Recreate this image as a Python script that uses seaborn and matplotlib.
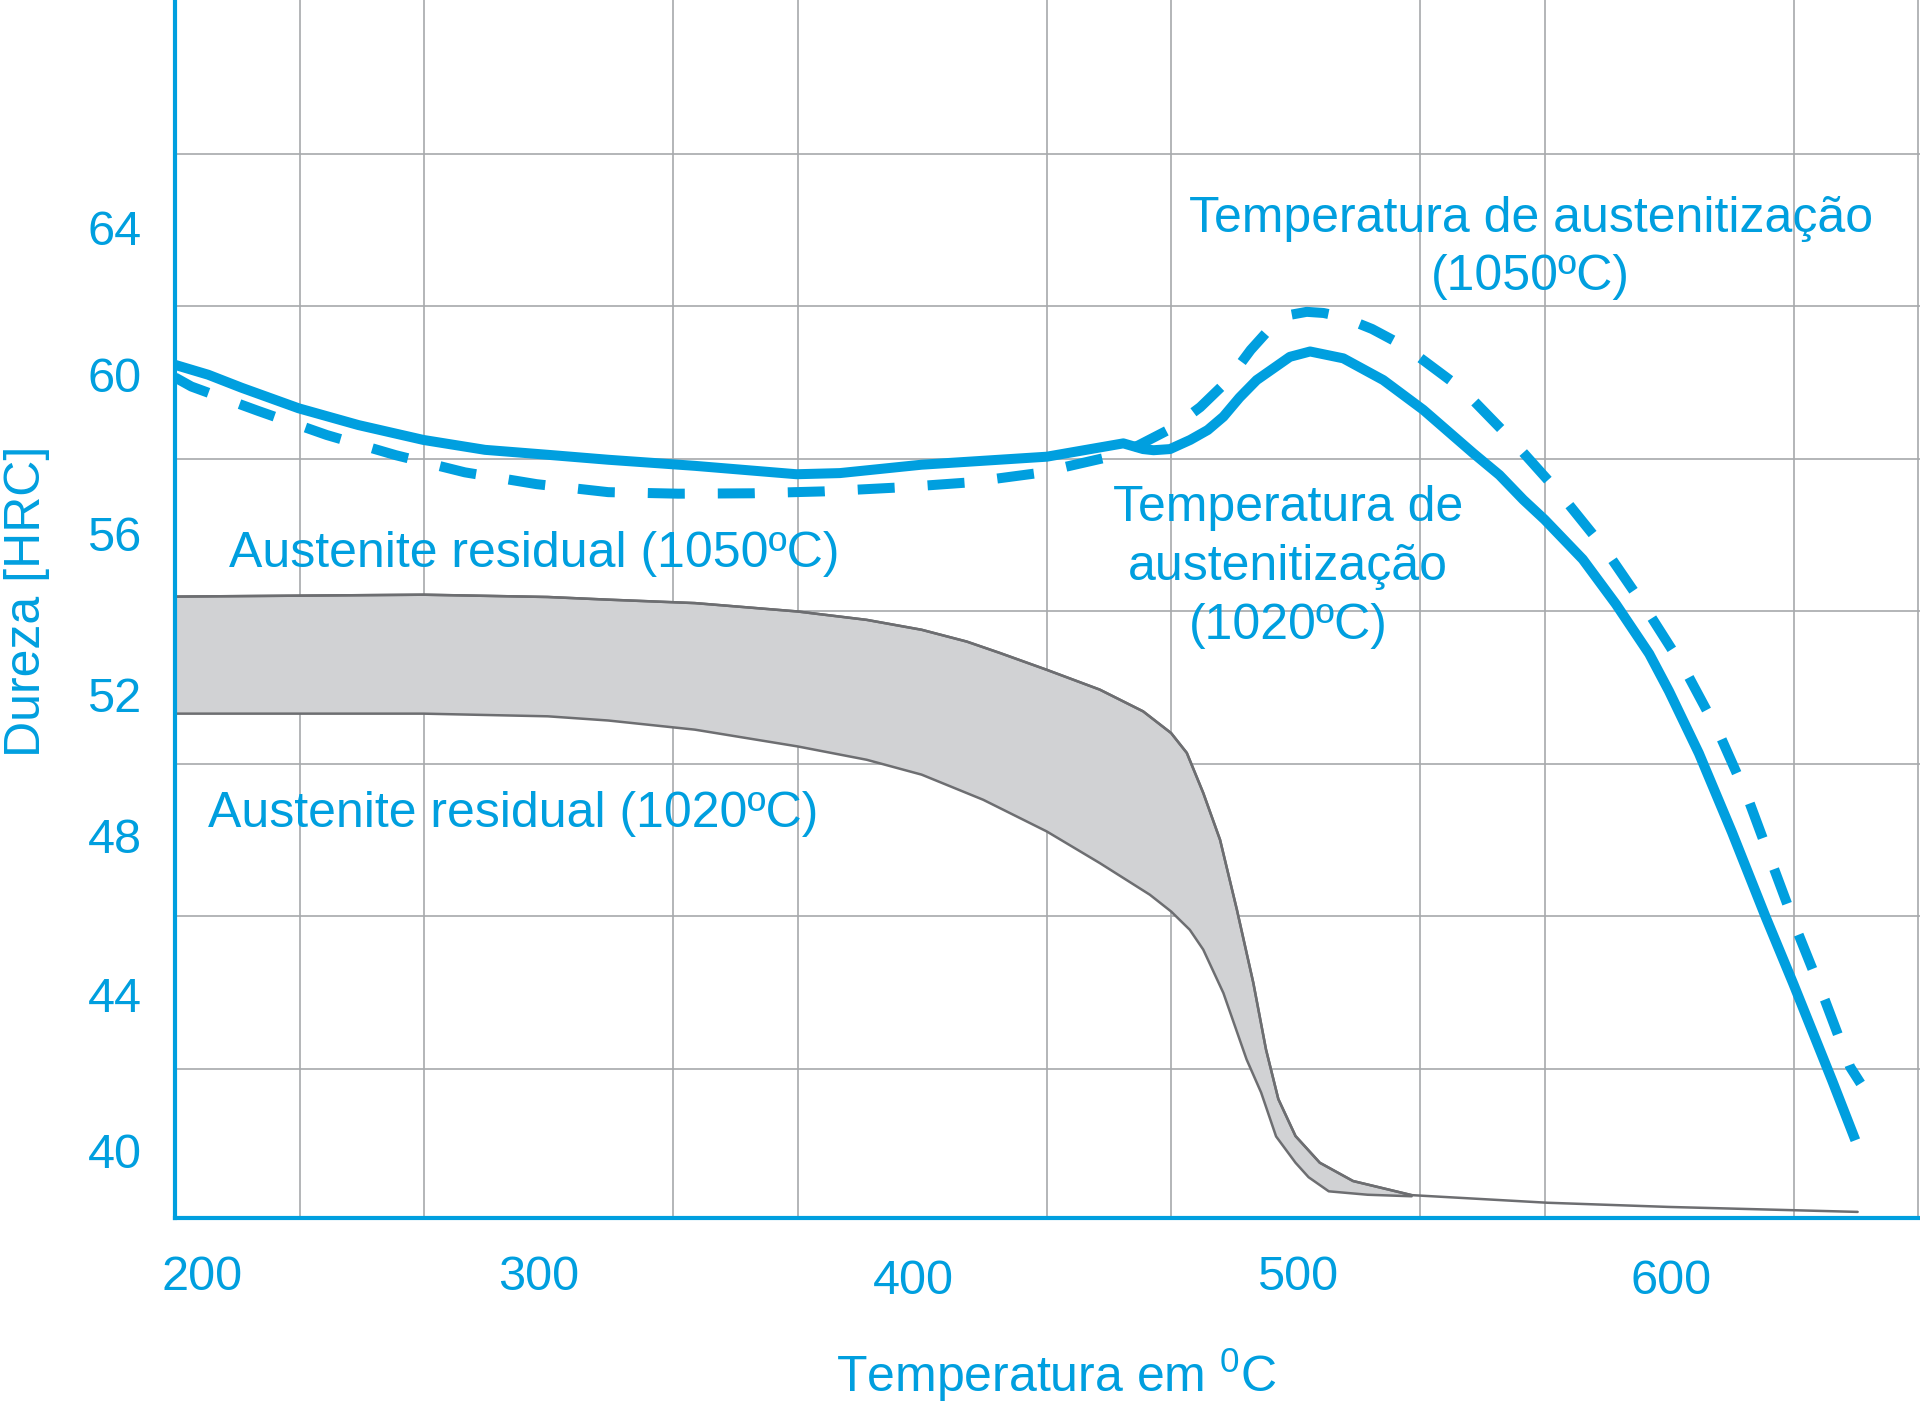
import matplotlib
matplotlib.use("Agg")
import matplotlib.pyplot as plt
import matplotlib.transforms as mtransforms
import numpy as np
import seaborn as sns

# Tempering curves (temperature in C, hardness in HRC)
solid_t = [200, 208.9, 217.8, 233.1, 249.1, 266.5, 283.0, 299.8, 316.0, 339.2, 366.4,
           378.0, 399.9, 433.4, 453.9, 459.2, 462.0, 466.4, 471.8, 476.5, 480.7, 485.0,
           489.6, 498.5, 503.9, 512.8, 523.5, 534.2, 547.6, 554.6, 561.0, 566.7, 576.9,
           585.8, 594.7, 600.0, 608.0, 616.9, 625.9, 633.3, 643.7, 649.9]
solid_h = [60.61, 60.35, 60.01, 59.47, 59.03, 58.64, 58.38, 58.25, 58.12, 57.96, 57.74,
           57.77, 57.99, 58.20, 58.55, 58.40, 58.37, 58.40, 58.64, 58.90, 59.25, 59.75,
           60.21, 60.82, 60.96, 60.78, 60.21, 59.43, 58.29, 57.72, 57.07, 56.55, 55.51,
           54.33, 53.03, 52.05, 50.42, 48.34, 46.12, 44.37, 41.83, 40.27]

dashed_t = [200, 204.4, 222.3, 240.6, 259.1, 277.6, 296.8, 316.0, 334.7, 354.4, 373.6,
            393.2, 411.9, 431.1, 450.3, 458.0, 467.3, 474.5, 482.0, 488.0, 493.6, 498.5,
            503.0, 507.5, 512.4, 520.5, 529.3, 544.9, 558.3, 571.1, 583.1, 594.3, 604.5,
            613.4, 621.2, 627.9, 634.6, 641.8, 648.5, 651.3]
dashed_h = [60.28, 60.04, 59.40, 58.77, 58.24, 57.79, 57.48, 57.27, 57.23, 57.24, 57.29,
            57.39, 57.52, 57.77, 58.20, 58.50, 58.97, 59.50, 60.21, 61.00, 61.61, 61.92,
            62.00, 61.97, 61.87, 61.55, 61.09, 59.95, 58.60, 57.20, 55.74, 54.14, 52.57,
            50.94, 49.22, 47.45, 45.69, 43.93, 42.19, 41.76]

# retained austenite band (upper = 1050 C edge, lower = 1020 C edge)
band_up_t = [200, 266.5, 299.8, 316.0, 339.2, 366.7, 385.2, 399.9, 412.0, 420.9, 433.4,
             447.6, 459.2, 466.7, 470.9, 475.3, 479.8, 484.3, 488.7, 492.1, 495.4, 500.0,
             506.5, 515.4, 531.1, 567.5, 600.0, 650.5]
band_up_h = [54.53, 54.58, 54.52, 54.45, 54.36, 54.14, 53.92, 53.66, 53.35, 53.05, 52.61,
             52.09, 51.52, 50.95, 50.43, 49.38, 48.15, 46.32, 44.40, 42.65, 41.35, 40.38,
             39.68, 39.20, 38.83, 38.63, 38.52, 38.39]
band_lo_t = [200, 266.5, 299.8, 316.0, 339.2, 366.7, 385.2, 399.9, 416.4, 433.4, 447.6,
             461.0, 466.7, 471.7, 475.3, 480.7, 483.8, 486.9, 490.8, 494.8, 500.0, 503.5,
             508.9, 519.3, 531.1]
band_lo_h = [51.46, 51.46, 51.39, 51.28, 51.04, 50.60, 50.25, 49.86, 49.20, 48.37, 47.54,
             46.71, 46.27, 45.79, 45.27, 44.13, 43.26, 42.39, 41.52, 40.37, 39.68, 39.30,
             38.93, 38.84, 38.80]

x_ticks = [200, 300, 400, 500, 600]
y_ticks = [40, 44, 48, 52, 56, 60, 64]

BLUE = "#009FDF"
GRID = "#A7A9AC"
BAND = "#D1D2D4"
EDGE = "#6D6E71"

sns.set_style("white")
plt.rcParams["font.family"] = ["Liberation Sans", "DejaVu Sans"]
plt.rcParams["mathtext.fontset"] = "custom"
plt.rcParams["mathtext.rm"] = "Liberation Sans"

fig = plt.figure(figsize=(19.2, 14.13), dpi=100)
ax = fig.add_axes([175 / 1920, 1 - 1218 / 1413, 1 - 175 / 1920, 1218 / 1413])

# band: upper edge up to where both edges meet, then lower edge back
n_up = band_up_t.index(531.1) + 1
poly_t = band_up_t[:n_up] + band_lo_t[::-1]
poly_h = band_up_h[:n_up] + band_lo_h[::-1]
ax.fill(poly_t, poly_h, facecolor=BAND, edgecolor=EDGE, lw=1.8, joinstyle="round", zorder=2)
sns.lineplot(x=band_up_t, y=band_up_h, ax=ax, sort=False, estimator=None,
             color=EDGE, lw=1.8, zorder=3)

sns.lineplot(x=dashed_t, y=dashed_h, ax=ax, sort=False, estimator=None,
             color=BLUE, lw=7.2, zorder=4)
dl = ax.lines[-1]
dl.set_dashes([3.7, 3.3])
dl.set_dash_capstyle("butt")
dl.set_dash_joinstyle("round")
sns.lineplot(x=solid_t, y=solid_h, ax=ax, sort=False, estimator=None,
             color=BLUE, lw=7.2, zorder=5)
ax.lines[-1].set_solid_joinstyle("round")
ax.lines[-1].set_solid_capstyle("butt")

ax.set_xlim(200, 667.2)
ax.set_ylim(38.23, 70.18)

ax.set_xticks(x_ticks)
ax.set_yticks(y_ticks)
ax.set_xticks(200 + np.arange(1, 15) * 100 / 3, minor=True)
ax.set_yticks(42.15 + 4 * np.arange(7), minor=True)
ax.grid(False)
ax.grid(which="minor", color=GRID, lw=1.2)
ax.set_axisbelow(True)
ax.tick_params(which="both", length=0)
ax.tick_params(axis="x", labelsize=35, labelcolor=BLUE, pad=27)
ax.tick_params(axis="y", labelsize=35, labelcolor=BLUE, pad=24)

# small hand-placement offsets of the tick labels (pixels)
for lab, dx, dy in zip(ax.get_xticklabels(), [27, -10, -9, 2, 2], [0, 0, -4, 0, -4]):
    lab.set_transform(lab.get_transform() + mtransforms.ScaledTranslation(dx / 100, dy / 100, fig.dpi_scale_trans))
for lab, dy in zip(ax.get_yticklabels(), [0, 4, 10, -1, 7, 14, 8]):
    lab.set_transform(lab.get_transform() + mtransforms.ScaledTranslation(0, dy / 100, fig.dpi_scale_trans))

for side in ["top", "right"]:
    ax.spines[side].set_visible(False)
for side in ["left", "bottom"]:
    ax.spines[side].set_color(BLUE)
    ax.spines[side].set_linewidth(3)
    ax.spines[side].set_zorder(6)

fs = 36
ax.text(563, 63.68, "Temperatura de austenitização\n(1050ºC)", ha="center", va="center",
        fontsize=fs, color=BLUE, linespacing=1.34)
ax.text(498, 55.3, "Temperatura de\naustenitização\n(1020ºC)", ha="center", va="center",
        fontsize=fs, color=BLUE, linespacing=1.36)
ax.text(214.4, 55.65, "Austenite residual (1050ºC)", ha="left", va="center",
        fontsize=fs, color=BLUE)
ax.text(208.9, 48.82, "Austenite residual (1020ºC)", ha="left", va="center",
        fontsize=fs, color=BLUE)

fig.text(1056 / 1920, 1 - 1375 / 1413, "Temperatura em $^{0}$C", ha="center", va="center",
         fontsize=fs, color=BLUE)
fig.text(27 / 1920, 1 - 601 / 1413, "Dureza [HRC]", ha="center", va="center",
         rotation=90, fontsize=fs, color=BLUE)

fig.savefig("out.png", dpi=100)
